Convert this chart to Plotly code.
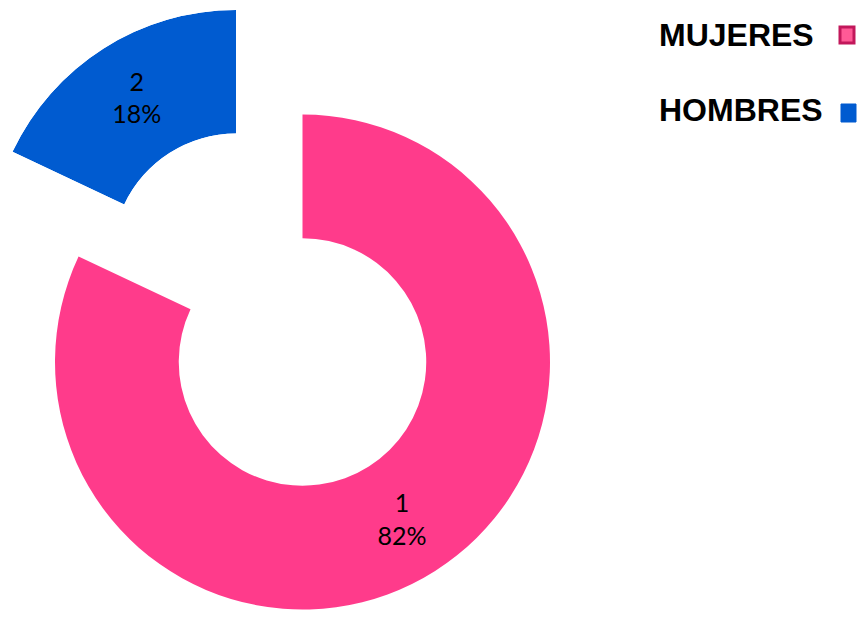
import plotly.graph_objects as go

# Data
categories = ["MUJERES", "HOMBRES"]
point_labels = ["1", "2"]
percentages = [82, 18]
colors = ["#FF3B8B", "#005BD0"]

OFF = 8  # page body margin
W, H = 865 - 2 * OFF, 619 - 2 * OFF


def px(x):
    return (x - OFF) / W


def py(y):
    return 1 - (y - OFF) / H


fig = go.Figure()

# Main donut (MUJERES visible, HOMBRES slice drawn detached below)
fig.add_trace(go.Pie(
    labels=categories,
    values=percentages,
    text=point_labels,
    texttemplate=["%{text}<br>%{percent:.0%}", ""],
    textposition="inside",
    insidetextorientation="horizontal",
    sort=False,
    direction="clockwise",
    rotation=0,
    hole=0.5,
    marker=dict(colors=[colors[0], "rgba(0,0,0,0)"], line=dict(width=0)),
    textfont=dict(family="Lato, Noto Sans, sans-serif", size=25, color="#000000"),
    domain=dict(x=[px(55), px(550)], y=[py(609.5), py(114.5)]),
    showlegend=False,
    hoverinfo="label+percent",
))

# Detached HOMBRES slice drawn as a polar bar on its own sector
total = sum(percentages)
start = 90.0
span = 360.0 * percentages[1] / total
mid = start + span / 2

fig.add_trace(go.Barpolar(
    r=[1], theta=[mid], width=[span],
    marker=dict(color=colors[1], line=dict(width=0)),
    subplot="polar", showlegend=False,
    hovertext=[categories[1]], hoverinfo="text",
))
fig.add_trace(go.Scatterpolar(
    r=[0.5], theta=[mid], mode="text",
    text=[f"{point_labels[1]}<br>{percentages[1]}%"],
    textfont=dict(family="Lato, Noto Sans, sans-serif", size=25, color="#000000"),
    subplot="polar", showlegend=False, hoverinfo="skip",
))

fig.update_layout(
    width=W, height=H,
    margin=dict(l=0, r=0, t=0, b=0),
    paper_bgcolor="white", plot_bgcolor="white",
    polar=dict(
        domain=dict(x=[px(12.5), px(236)], y=[py(257), py(10)]),
        sector=[start, start + span],
        hole=0.5,
        bgcolor="rgba(0,0,0,0)",
        radialaxis=dict(range=[0, 1], visible=False, showgrid=False),
        angularaxis=dict(visible=False, showgrid=False, rotation=0, direction="counterclockwise"),
    ),
)

# Custom legend (text left of marker)
legend_y = [35, 110]
for name, yy in zip(categories, legend_y):
    fig.add_annotation(
        x=px(657), y=py(yy), xref="paper", yref="paper",
        text=f"<b>{name}</b>", showarrow=False, xanchor="left", yanchor="middle",
        font=dict(family="Liberation Sans, Arial, sans-serif", size=32, color="#000000"),
    )
# markers
fig.add_shape(type="rect", xref="paper", yref="paper",
              x0=px(840), x1=px(854), y0=py(43), y1=py(27),
              fillcolor="#FF5A96", line=dict(color="#C2185B", width=3))
fig.add_shape(type="rect", xref="paper", yref="paper",
              x0=px(841), x1=px(856), y0=py(122), y1=py(104),
              fillcolor=colors[1], line=dict(color=colors[1], width=1))

fig.write_html("out.html")
